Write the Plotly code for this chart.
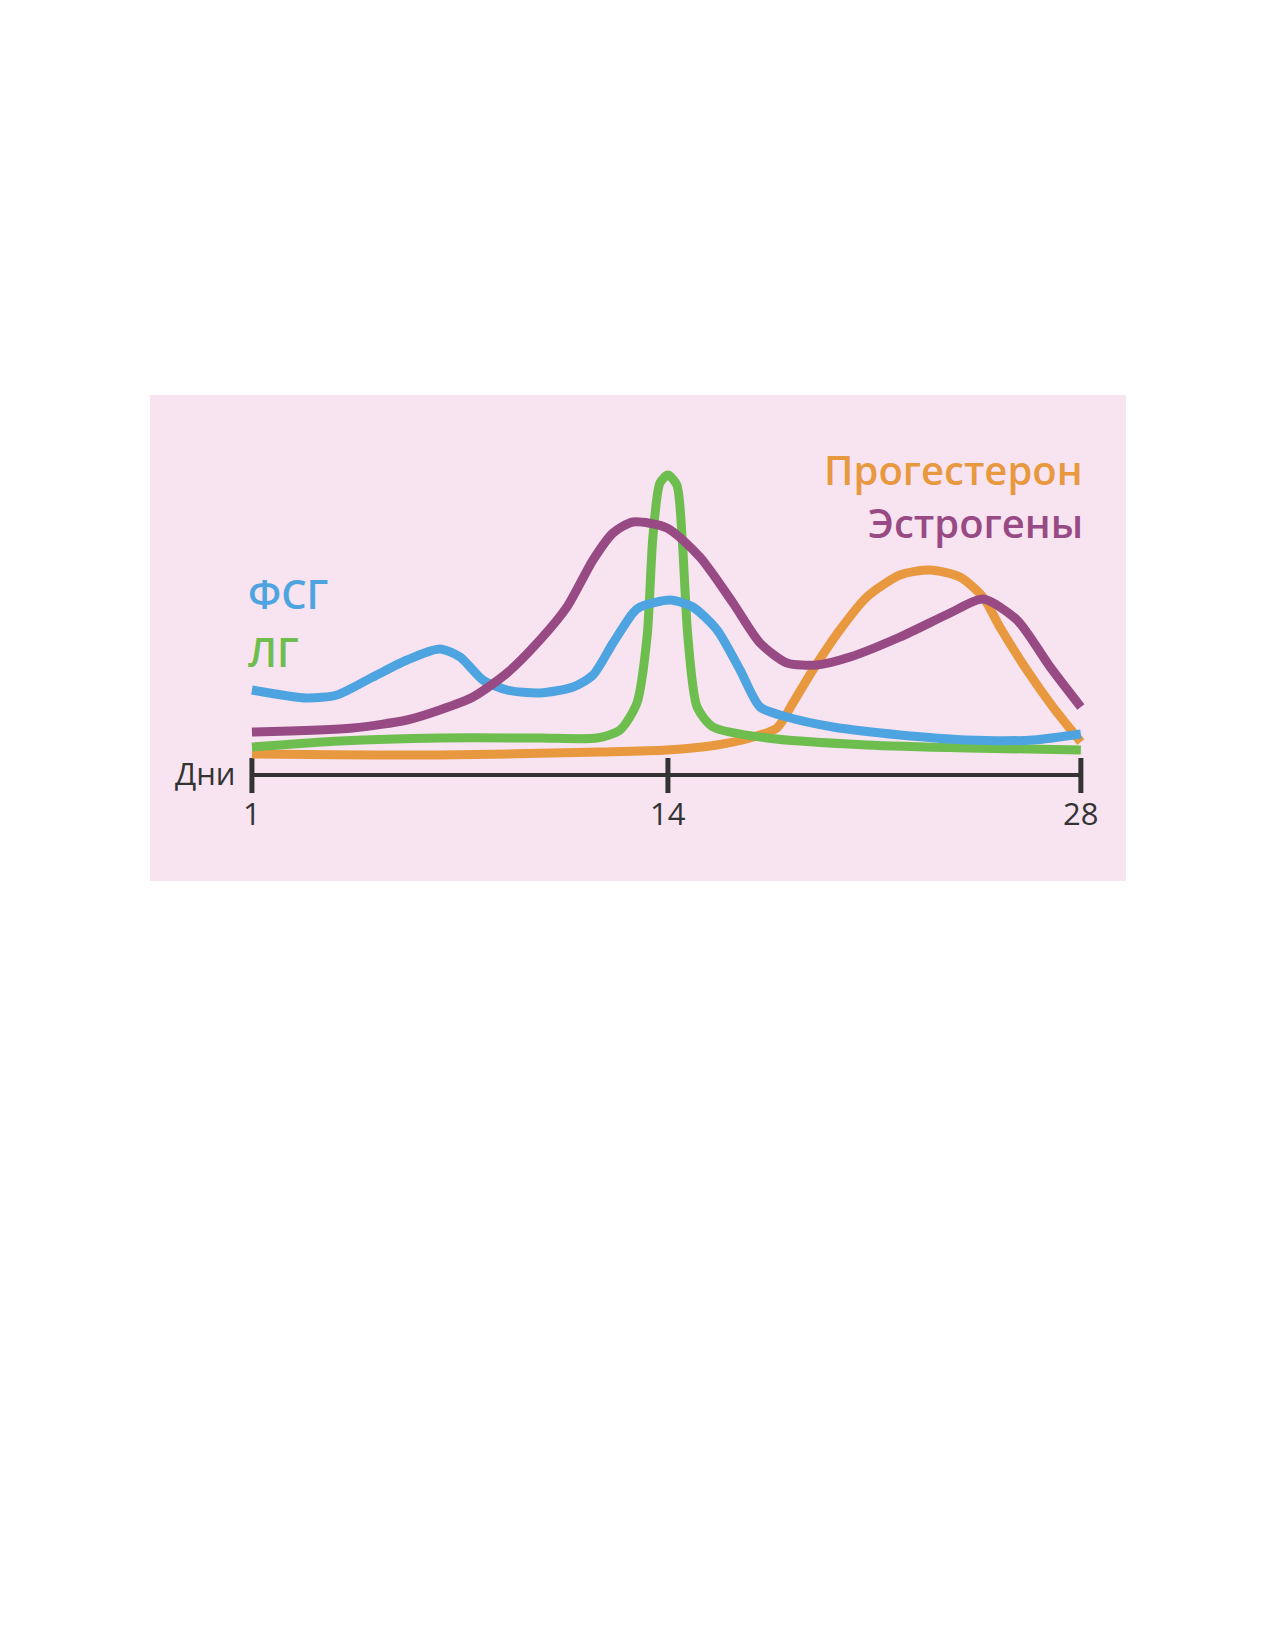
import plotly.graph_objects as go

# hormone levels over the cycle (x = day, y = relative level)
fsh_days = [1, 2.79, 3.77, 4.94, 6.05, 7.12, 7.78, 8.52, 9.31, 10.38, 11.46, 12.11, 12.76, 13.41,
            13.64, 14.62, 15.36, 16.15, 16.9, 17.55, 18.43, 19.93, 22.11, 24.29, 26.44, 28]
fsh_level = [8.5, 7.7, 8.0, 9.8, 11.5, 12.6, 11.8, 9.5, 8.5, 8.2, 8.8, 10.0, 13.2, 16.2,
             16.8, 17.5, 16.8, 14.5, 10.5, 6.8, 5.8, 4.8, 4.0, 3.5, 3.5, 4.1]

lh_days = [1, 3.87, 7.12, 10.38, 12.24, 12.99, 13.54, 13.87, 14.06, 14.29, 14.55, 14.84,
           15.01, 15.2, 15.5, 16.02, 17.78, 21.03, 24.29, 28]
lh_level = [2.8, 3.4, 3.7, 3.7, 3.7, 4.5, 7.2, 13.8, 23.8, 29.2, 30.0, 29.0,
            23.8, 13.8, 6.8, 4.8, 3.7, 3.0, 2.7, 2.5]

prog_days = [1, 7.12, 12.34, 14.52, 16.15, 17.22, 18.1, 18.62, 19.27, 20.15, 21.03, 22.11,
             23.08, 24.06, 24.81, 25.36, 26.24, 27.09, 28]
prog_level = [2.1, 2.0, 2.3, 2.5, 3.0, 3.7, 4.7, 7.2, 10.5, 14.5, 17.8, 20.0,
              20.5, 19.8, 17.8, 14.8, 10.5, 6.8, 3.3]

estr_days = [1, 4.29, 6.05, 7.12, 8.2, 9.31, 10.38, 11.26, 12.11, 12.76, 13.41, 14.52, 15.59,
             16.67, 17.55, 18.43, 19.4, 20.48, 22.11, 23.74, 24.81, 25.92, 27.0, 28]
estr_level = [4.3, 4.7, 5.5, 6.5, 7.8, 10.2, 13.5, 16.8, 21.5, 24.2, 25.3, 24.7, 21.8,
              17.2, 13.2, 11.2, 11.0, 11.8, 13.8, 16.2, 17.6, 15.5, 10.8, 6.8]

tick_pos = [1, 14.55, 28]
tick_text = ["1", "14", "28"]

BG = "#F8E4F1"
BLUE = "#4DA4E0"
GREEN = "#6DBE4F"
ORANGE = "#E8983F"
PURPLE = "#984A84"
DARK = "#333333"

fig = go.Figure()

# axis line under the curves
fig.add_shape(type="line", x0=tick_pos[0], x1=tick_pos[-1], y0=0, y1=0,
              line=dict(color=DARK, width=4), layer="below")
for t in tick_pos:
    fig.add_shape(type="line", x0=t, x1=t, y0=-1.8, y1=1.7,
                  line=dict(color=DARK, width=5), layer="below")

curves = [
    (prog_days, prog_level, ORANGE),
    (lh_days, lh_level, GREEN),
    (fsh_days, fsh_level, BLUE),
    (estr_days, estr_level, PURPLE),
]
for xs, ys, col in curves:
    fig.add_trace(go.Scatter(x=xs, y=ys, mode="lines",
                             line=dict(color=col, width=9, shape="spline", smoothing=0.7),
                             hoverinfo="skip", showlegend=False))

font = "Open Sans, Noto Sans, DejaVu Sans"
labels = [
    ("ФСГ", 0.8, 18.2, "left", BLUE),
    ("ЛГ", 0.8, 12.4, "left", GREEN),
    ("Прогестерон", 28.13, 30.6, "right", ORANGE),
    ("Эстрогены", 28.13, 25.3, "right", PURPLE),
]
for txt, x, y, anchor, col in labels:
    fig.add_annotation(x=x, y=y, text=txt, showarrow=False, xanchor=anchor, yanchor="middle",
                       font=dict(family=font, size=40, color=col, weight=600))

fig.add_annotation(x=0.55, y=0.2, text="Дни", showarrow=False, xanchor="right", yanchor="middle",
                   font=dict(family=font, size=31, color=DARK))
for t, s in zip(tick_pos, tick_text):
    fig.add_annotation(x=t, y=-3.8, text=s, showarrow=False, xanchor="center", yanchor="middle",
                       font=dict(family=font, size=31, color=DARK))

fig.update_layout(
    width=1275, height=1650,
    margin=dict(l=142, r=157, t=387, b=777),
    paper_bgcolor="white", plot_bgcolor=BG,
    xaxis=dict(range=[-2.32, 29.47], visible=False, fixedrange=True),
    yaxis=dict(range=[-10.6, 38.0], visible=False, fixedrange=True),
)

fig.write_html("out.html")
